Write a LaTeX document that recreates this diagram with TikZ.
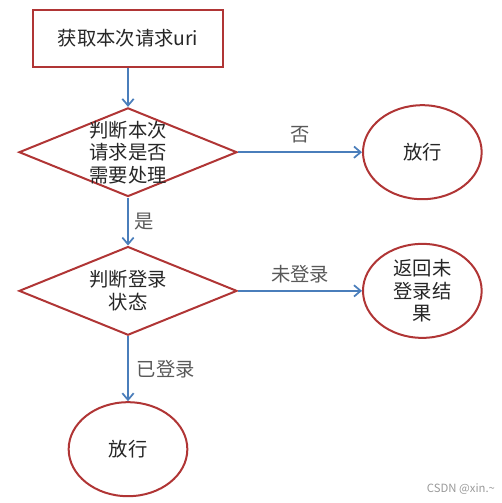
\documentclass[tikz,border=0pt]{standalone}
\usepackage{fontspec}
\setmainfont{Noto Sans CJK SC}
\usetikzlibrary{positioning,shapes.geometric,arrows.meta}

\definecolor{boxred}{HTML}{B03535}
\definecolor{lineblue}{HTML}{4A7EBB}
\definecolor{inkdark}{HTML}{262626}
\definecolor{inkgray}{HTML}{595959}

\tikzset{
  procbox/.style = {draw=boxred, line width=1.5pt, rectangle,
                    minimum width=143pt, minimum height=42.5pt, text=inkdark},
  decide/.style  = {draw=boxred, line width=1.5pt, diamond, inner sep=0pt,
                    minimum width=163.5pt, minimum height=66.5pt},
  dtext/.style   = {align=center, text=inkdark, font=\fontsize{14.5pt}{16.9pt}\selectfont},
  endcircle/.style = {draw=boxred, line width=1.5pt, ellipse, inner sep=0pt,
                    minimum width=89pt, minimum height=70.5pt, align=center, text=inkdark},
  flow/.style    = {draw=lineblue, line width=1.5pt,
                    -{Straight Barb[length=5pt,width=8.5pt,line width=1.3pt]}},
  lbl/.style     = {text=inkgray}
}

\begin{document}
\begin{tikzpicture}[node distance = 30pt, font=\fontsize{14.5pt}{16.9pt}\selectfont]
    \useasboundingbox (0,0) rectangle (376.5pt,-377.25pt);

    \node[procbox] (uri) at (96pt,-28.9pt) {获取本次请求uri};

    \node[decide, below=29.25pt of uri,
          label={[dtext]center:判断本次\\请求是否\\需要处理}] (need) {};
    \node[endcircle, right=93pt of need] (pass) {放行};

    \node[decide, below=36pt of need,
          label={[dtext]center:判断登录\\状态}] (login) {};
    \node[endcircle, right=93pt of login] (back) {返回未\\登录结\\果};

    \node[endcircle, below=48.75pt of login] (passb) {放行};

    \draw[flow] (uri) -- (need);
    \draw[flow] (need) -- node[lbl, above=2.5pt] (no) {否} (pass);
    \draw[flow] (need) -- node[lbl, right=1pt] (yes) {是} (login);
    \draw[flow] (login) -- node[lbl, above=2pt] (nologin) {未登录} (back);
    \draw[flow] (login) -- node[lbl, right=2.5pt] (logged) {已登录} (passb);

    \node[text=black!40, font=\fontsize{8.5pt}{10pt}\selectfont] (mark) at (345.75pt,-366.75pt) {CSDN @xin.\textasciitilde};
\end{tikzpicture}
\end{document}
